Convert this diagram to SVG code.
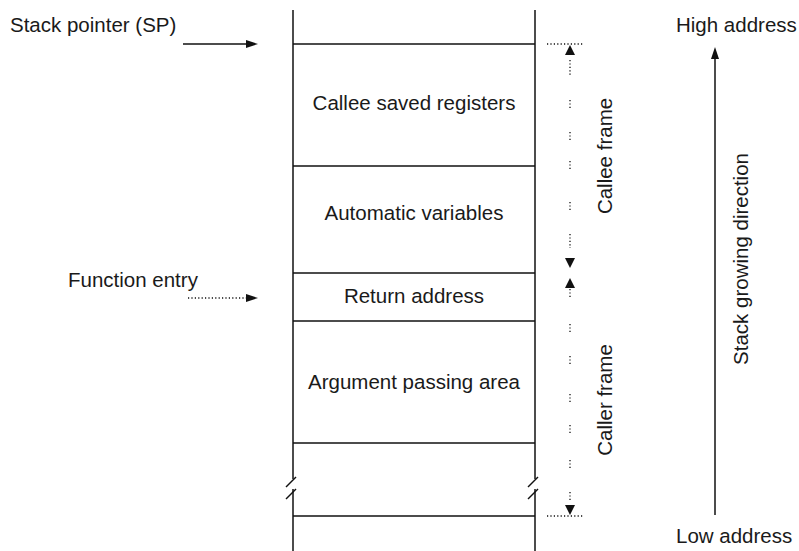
<svg xmlns="http://www.w3.org/2000/svg" width="799" height="551" viewBox="0 0 799 551">
<style>
text{font-family:"Liberation Sans",Arial,sans-serif;font-size:20.5px;fill:#1a1a1a}
.c{text-anchor:middle}
.ln{stroke:#111;stroke-width:1.5;fill:none}
.dot{stroke:#111;stroke-width:1.3;fill:none;stroke-dasharray:1.2 2.2}
.ah{fill:#111}
</style>
<rect width="799" height="551" fill="#fff"/>
<g id="stack">
<line class="ln" x1="293" y1="10" x2="293" y2="479"/>
<line class="ln" x1="293" y1="489" x2="293" y2="551"/>
<line class="ln" x1="286" y1="487" x2="296" y2="477"/>
<line class="ln" x1="286" y1="499" x2="296" y2="489"/>
<line class="ln" x1="535" y1="10" x2="535" y2="479"/>
<line class="ln" x1="535" y1="489" x2="535" y2="551"/>
<line class="ln" x1="528" y1="487" x2="538" y2="477"/>
<line class="ln" x1="528" y1="499" x2="538" y2="489"/>
</g>
<g id="callee-saved"><line class="ln" x1="293" y1="44" x2="535" y2="44"/><text class="c" x="414" y="110">Callee saved registers</text></g>
<g id="automatic"><line class="ln" x1="293" y1="166" x2="535" y2="166"/><text class="c" x="414" y="220">Automatic variables</text></g>
<g id="return"><line class="ln" x1="293" y1="273" x2="535" y2="273"/><text class="c" x="414" y="303">Return address</text></g>
<g id="argument"><line class="ln" x1="293" y1="321" x2="535" y2="321"/><text class="c" x="414" y="389">Argument passing area</text></g>
<g id="empty"><line class="ln" x1="293" y1="443" x2="535" y2="443"/><line class="ln" x1="293" y1="516" x2="535" y2="516"/></g>
<g id="sp-label"><text x="10" y="32">Stack pointer (SP)</text></g>
<g id="fe-label"><text x="68" y="287">Function entry</text></g>
<g id="high"><text x="676" y="32">High address</text></g>
<g id="low"><text x="676" y="543">Low address</text></g>
<g id="callee-frame"><text class="c" transform="translate(612,156) rotate(-90)">Callee frame</text></g>
<g id="caller-frame"><text class="c" transform="translate(612,400) rotate(-90)">Caller frame</text></g>
<g id="growing"><text class="c" transform="translate(748,259) rotate(-90)">Stack growing direction</text></g>
<g id="connectors">
<line class="ln" x1="183" y1="44" x2="248" y2="44"/>
<polygon class="ah" points="258,44 246,40 246,48"/>
<line class="dot" x1="188" y1="298" x2="248" y2="298"/>
<polygon class="ah" points="258,298 246,294 246,302"/>
<line class="ln" x1="715" y1="56" x2="715" y2="515"/>
<polygon class="ah" points="715,47 711,59 719,59"/>
<line class="dot" x1="547" y1="44" x2="584" y2="44"/>
<line class="dot" x1="547" y1="516" x2="584" y2="516"/>
<polygon class="ah" points="570,45 565,55 575,55"/>
<polygon class="ah" points="570,268 565,258 575,258"/>
<polygon class="ah" points="570,278 565,288 575,288"/>
<polygon class="ah" points="570,515 565,505 575,505"/>
<g class="dot">
<line x1="570" y1="60" x2="570" y2="76"/>
<line x1="570" y1="100" x2="570" y2="110"/>
<line x1="570" y1="132" x2="570" y2="142"/>
<line x1="570" y1="161" x2="570" y2="169"/>
<line x1="570" y1="202" x2="570" y2="212"/>
<line x1="570" y1="234" x2="570" y2="248"/>
<line x1="570" y1="289" x2="570" y2="299"/>
<line x1="570" y1="324" x2="570" y2="334"/>
<line x1="570" y1="356" x2="570" y2="366"/>
<line x1="570" y1="394" x2="570" y2="404"/>
<line x1="570" y1="425" x2="570" y2="433"/>
<line x1="570" y1="460" x2="570" y2="470"/>
<line x1="570" y1="492" x2="570" y2="502"/>
</g>
</g>
</svg>
